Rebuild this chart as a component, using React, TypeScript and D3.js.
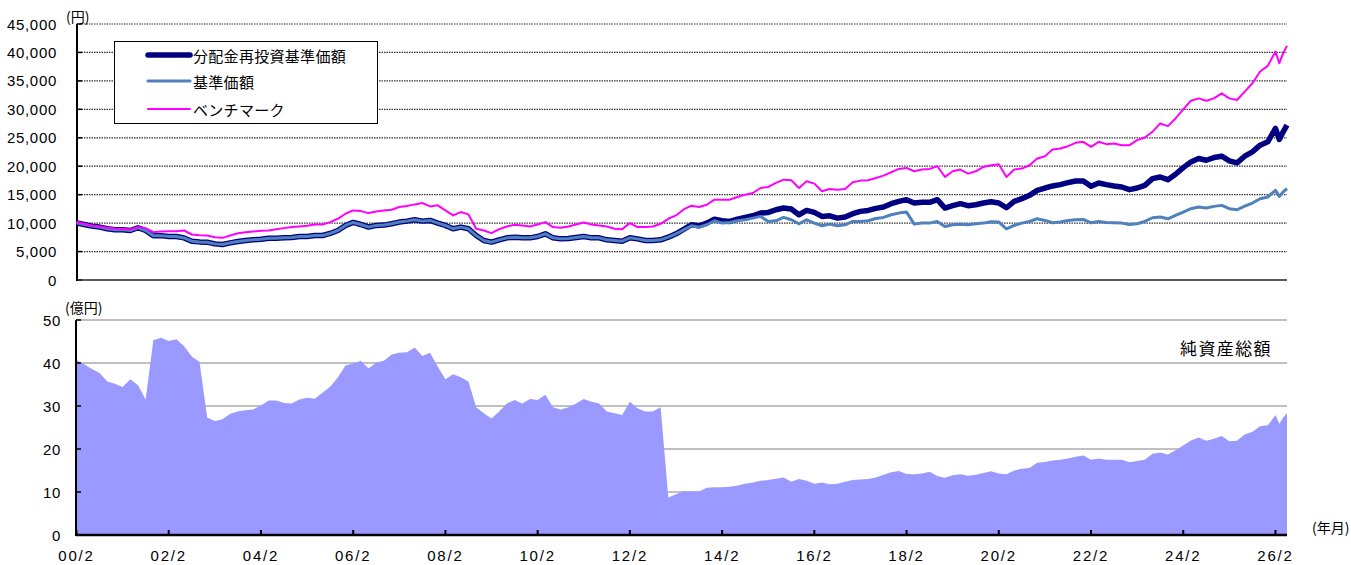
import React from "react";
import * as d3 from "d3";

// month offsets from 2000/2 (every 2 months, monthly at the very end)
const monthIdx = [...d3.range(0, 313, 2), 313, 314, 315];

// 分配金再投資基準価額 (円)
const navReinvest = [
  10050, 9760, 9470, 9300, 9000, 8820, 8820, 8700, 9180, 8700,
  7760, 7800, 7650, 7650, 7400, 6820, 6700, 6650, 6350, 6240,
  6530, 6760, 6940, 7060, 7180, 7350, 7350, 7410, 7470, 7650,
  7650, 7820, 7820, 8180, 8700, 9590, 10120, 9760, 9300, 9600,
  9650, 9880, 10180, 10350, 10590, 10350, 10470, 10000, 9590, 9000,
  9300, 9000, 7820, 6940, 6650, 7060, 7410, 7530, 7410, 7410,
  7650, 8120, 7410, 7230, 7290, 7470, 7650, 7410, 7410, 7060,
  6940, 6820, 7410, 7230, 6940, 6940, 7060, 7530, 8120, 8900,
  9710, 9530, 10000, 10700, 10410, 10290, 10700, 11000, 11290, 11760,
  11880, 12350, 12650, 12470, 11470, 12230, 11880, 11180, 11290, 10880,
  11060, 11650, 12060, 12230, 12590, 12820, 13410, 13820, 14120, 13530,
  13650, 13650, 14120, 12650, 13060, 13410, 13060, 13230, 13530, 13760,
  13530, 12700, 13820, 14290, 14880, 15760, 16170, 16530, 16760, 17110,
  17410, 17410, 16470, 17060, 16760, 16530, 16350, 15880, 16170, 16640,
  17820, 18110, 17640, 18590, 19760, 20760, 21350, 21050, 21520, 21760,
  20940, 20580, 21760, 22520, 23700, 24290, 26640, 24700, 26050, 27230,
];

// 基準価額 (円)
const nav = [
  10050, 9760, 9470, 9300, 9000, 8820, 8820, 8700, 9180, 8700,
  7760, 7800, 7650, 7650, 7400, 6820, 6700, 6650, 6350, 6240,
  6530, 6760, 6940, 7060, 7180, 7350, 7350, 7410, 7470, 7650,
  7650, 7820, 7820, 8180, 8700, 9590, 10120, 9760, 9300, 9600,
  9650, 9880, 10180, 10350, 10590, 10350, 10470, 10000, 9590, 9000,
  9300, 9000, 7820, 6940, 6650, 7060, 7410, 7530, 7410, 7410,
  7650, 8120, 7410, 7230, 7290, 7470, 7650, 7410, 7410, 7060,
  6940, 6820, 7410, 7230, 6940, 6940, 7060, 7530, 8120, 8800,
  9530, 9290, 9710, 10410, 10000, 10120, 10410, 10590, 10880, 11180,
  10290, 10410, 11000, 10590, 9880, 10590, 10000, 9530, 9820, 9530,
  9710, 10290, 10290, 10410, 10820, 11000, 11470, 11760, 11940, 9820,
  10000, 10000, 10290, 9410, 9710, 9820, 9710, 9880, 10000, 10240,
  10180, 9000, 9590, 10000, 10290, 10760, 10470, 10060, 10180, 10470,
  10590, 10650, 10060, 10290, 10120, 10060, 10000, 9760, 9880, 10290,
  10940, 11060, 10760, 11350, 11940, 12530, 12820, 12650, 12940, 13120,
  12530, 12350, 13000, 13530, 14290, 14590, 15760, 14700, 15470, 16060,
];

// ベンチマーク (円)
const benchmark = [
  10180, 9900, 9590, 9400, 9180, 9050, 9000, 8880, 9300, 9120,
  8410, 8530, 8590, 8590, 8700, 8000, 7880, 7820, 7530, 7410,
  7820, 8230, 8410, 8530, 8640, 8700, 8940, 9120, 9300, 9410,
  9530, 9760, 9760, 10180, 10760, 11640, 12230, 12110, 11760, 12050,
  12230, 12350, 12820, 13000, 13290, 13530, 12940, 13120, 12230, 11350,
  11940, 11530, 9000, 8700, 8230, 8940, 9410, 9700, 9590, 9410,
  9760, 10180, 9300, 9180, 9410, 9760, 10120, 9760, 9590, 9410,
  9000, 8940, 10000, 9300, 9300, 9410, 9880, 10760, 11350, 12400,
  13060, 12820, 13230, 14120, 14120, 14120, 14590, 15000, 15290, 16170,
  16350, 17060, 17640, 17530, 16170, 17350, 16940, 15590, 16000, 15880,
  16000, 17170, 17470, 17530, 17940, 18350, 18940, 19530, 19700, 19110,
  19410, 19530, 20000, 18120, 19110, 19410, 18700, 19110, 19880, 20170,
  20350, 18110, 19410, 19580, 20170, 21350, 21760, 22940, 23110, 23520,
  24110, 24290, 23410, 24290, 23880, 23990, 23700, 23700, 24580, 25050,
  26050, 27520, 27050, 28400, 29990, 31520, 31930, 31520, 31930, 32810,
  31930, 31640, 33110, 34580, 36640, 37640, 40160, 38110, 39870, 41160,
];

// 純資産総額 (億円)
const netAssets = [
  40.7, 39.7, 38.6, 37.7, 35.7, 35.2, 34.4, 36.2, 34.8, 31.5,
  45.3, 45.9, 45.1, 45.5, 43.9, 41.5, 40.3, 27.3, 26.5, 26.9,
  28.2, 28.7, 29.0, 29.2, 30.1, 31.3, 31.3, 30.7, 30.6, 31.5,
  31.9, 31.7, 33.1, 34.5, 36.6, 39.4, 39.9, 40.5, 38.7, 40.1,
  40.5, 42.0, 42.4, 42.5, 43.6, 41.6, 42.4, 39.1, 36.2, 37.4,
  36.7, 35.7, 29.7, 28.3, 27.1, 28.7, 30.6, 31.4, 30.6, 31.6,
  31.4, 32.6, 29.7, 29.2, 29.7, 30.6, 31.6, 31.0, 30.6, 28.7,
  28.3, 27.9, 31.0, 29.5, 28.7, 28.7, 29.7, 8.7, 9.5, 10.2,
  10.1, 10.1, 11.0, 11.1, 11.1, 11.2, 11.5, 11.9, 12.2, 12.6,
  12.8, 13.1, 13.4, 12.4, 13.0, 12.6, 11.9, 12.2, 11.8, 11.9,
  12.4, 12.8, 12.9, 13.0, 13.4, 14.0, 14.6, 14.9, 14.2, 14.1,
  14.3, 14.7, 13.7, 13.3, 13.9, 14.1, 13.8, 14.0, 14.4, 14.8,
  14.3, 14.1, 15.0, 15.4, 15.6, 16.8, 17.0, 17.3, 17.5, 17.8,
  18.2, 18.5, 17.5, 17.8, 17.5, 17.5, 17.5, 16.9, 17.2, 17.5,
  18.9, 19.2, 18.7, 19.7, 20.8, 22.0, 22.7, 21.9, 22.4, 23.0,
  21.8, 21.9, 23.4, 24.0, 25.3, 25.5, 27.9, 25.9, 27.3, 28.3,
];

const topTicks = [0, 5000, 10000, 15000, 20000, 25000, 30000, 35000, 40000, 45000];
const bottomTicks = [0, 10, 20, 30, 40, 50];
const xTickMonths = [0, 24, 48, 72, 96, 120, 144, 168, 192, 216, 240, 264, 288, 312];
const xTickLabels = ["00/2", "02/2", "04/2", "06/2", "08/2", "10/2", "12/2", "14/2", "16/2", "18/2", "20/2", "22/2", "24/2", "26/2"];

const legendItems = [
  { label: "分配金再投資基準価額", color: "#000080", width: 5.5 },
  { label: "基準価額", color: "#4F81BD", width: 3 },
  { label: "ベンチマーク", color: "#FF00FF", width: 2 },
];

const numFont = "'Liberation Sans', Arial, sans-serif";
const jpFont = "'Noto Sans CJK JP', 'Noto Sans', sans-serif";

export default function App() {
  const W = 1351, H = 565;
  const left = 76.5, right = 1287;

  const x = d3.scaleLinear().domain([0, 315]).range([left, right]);
  const yTop = d3.scaleLinear().domain([0, 45000]).range([280, 24]);
  const yBot = d3.scaleLinear().domain([0, 50]).range([535, 320]);

  const line = d3.line<number>()
    .x((_, i) => x(monthIdx[i]))
    .y((d) => yTop(d));

  const area = d3.area<number>()
    .x((_, i) => x(monthIdx[i]))
    .y0(yBot(0))
    .y1((d) => yBot(d));

  return (
    <div style={{ position: "absolute", left: 0, top: 0 }}>
      <svg width={W} height={H} style={{ display: "block", background: "#fff" }}>
        {/* ---- top chart ---- */}
        {topTicks.filter((t) => t > 0).map((t) => (
          <line key={"gt" + t} x1={left} x2={right} y1={yTop(t)} y2={yTop(t)}
            stroke="#333" strokeWidth={1.2} strokeDasharray="1.5 1" />
        ))}
        {topTicks.map((t) => (
          <g key={"yt" + t}>
            <line x1={77} x2={82} y1={yTop(t)} y2={yTop(t)} stroke="#000" strokeWidth={1.5} />
            <text x={57} y={yTop(t)} textAnchor="end" dominantBaseline="central"
              fontFamily={numFont} fontSize={15} letterSpacing={0.7}>{d3.format(",")(t)}</text>
          </g>
        ))}
        <line x1={77} x2={right} y1={280} y2={280} stroke="#222" strokeWidth={1.5} />
        <line x1={77} x2={77} y1={24} y2={281} stroke="#000" strokeWidth={2} />
        <text x={66} y={16} dominantBaseline="central" fontFamily={jpFont} fontSize={14}>(円)</text>

        <path d={line(navReinvest) || ""} fill="none" stroke="#000080" strokeWidth={5.5} strokeLinejoin="round" />
        <path d={line(nav) || ""} fill="none" stroke="#4F81BD" strokeWidth={3} strokeLinejoin="round" />
        <path d={line(benchmark) || ""} fill="none" stroke="#FF00FF" strokeWidth={2} strokeLinejoin="round" />

        {/* legend */}
        <rect x={114.5} y={41.5} width={263} height={82} fill="#fff" stroke="#000" strokeWidth={1} />
        {legendItems.map((it, i) => {
          const ly = [55, 81, 109][i];
          return (
            <g key={it.label}>
              <line x1={148} x2={190} y1={ly} y2={ly} stroke={it.color} strokeWidth={it.width} strokeLinecap="round" />
              <text x={193} y={ly} dominantBaseline="central" fontFamily={jpFont} fontSize={15} letterSpacing={0.3}>{it.label}</text>
            </g>
          );
        })}

        {/* ---- bottom chart ---- */}
        {bottomTicks.filter((t) => t > 0).map((t) => (
          <line key={"gb" + t} x1={left} x2={right} y1={yBot(t)} y2={yBot(t)}
            stroke="#000" strokeWidth={1} strokeDasharray="1 1" />
        ))}
        <path d={area(netAssets) || ""} fill="#9999FF" stroke="none" />
        {bottomTicks.map((t) => (
          <g key={"yb" + t}>
            <line x1={76} x2={81} y1={yBot(t)} y2={yBot(t)} stroke="#000" strokeWidth={1.5} />
            <text x={61} y={yBot(t)} textAnchor="end" dominantBaseline="central"
              fontFamily={numFont} fontSize={15} letterSpacing={0.7}>{t}</text>
          </g>
        ))}
        {xTickMonths.map((m, i) => (
          <g key={"xt" + m}>
            <line x1={x(m)} x2={x(m)} y1={530} y2={535} stroke="#000" strokeWidth={2} />
            <text x={x(m)} y={555} textAnchor="middle" dominantBaseline="central"
              fontFamily={numFont} fontSize={15} letterSpacing={1.8}>{xTickLabels[i]}</text>
          </g>
        ))}
        <line x1={76} x2={right} y1={535} y2={535} stroke="#000" strokeWidth={2.5} />
        <line x1={76} x2={76} y1={320} y2={536} stroke="#000" strokeWidth={2} />
        <text x={65} y={307} dominantBaseline="central" fontFamily={jpFont} fontSize={14}>(億円)</text>
        <text x={1180} y={347} dominantBaseline="central" fontFamily={jpFont} fontSize={17} letterSpacing={1.4}>純資産総額</text>
        <text x={1312} y={527} dominantBaseline="central" fontFamily={jpFont} fontSize={14}>(年月)</text>
      </svg>
    </div>
  );
}
